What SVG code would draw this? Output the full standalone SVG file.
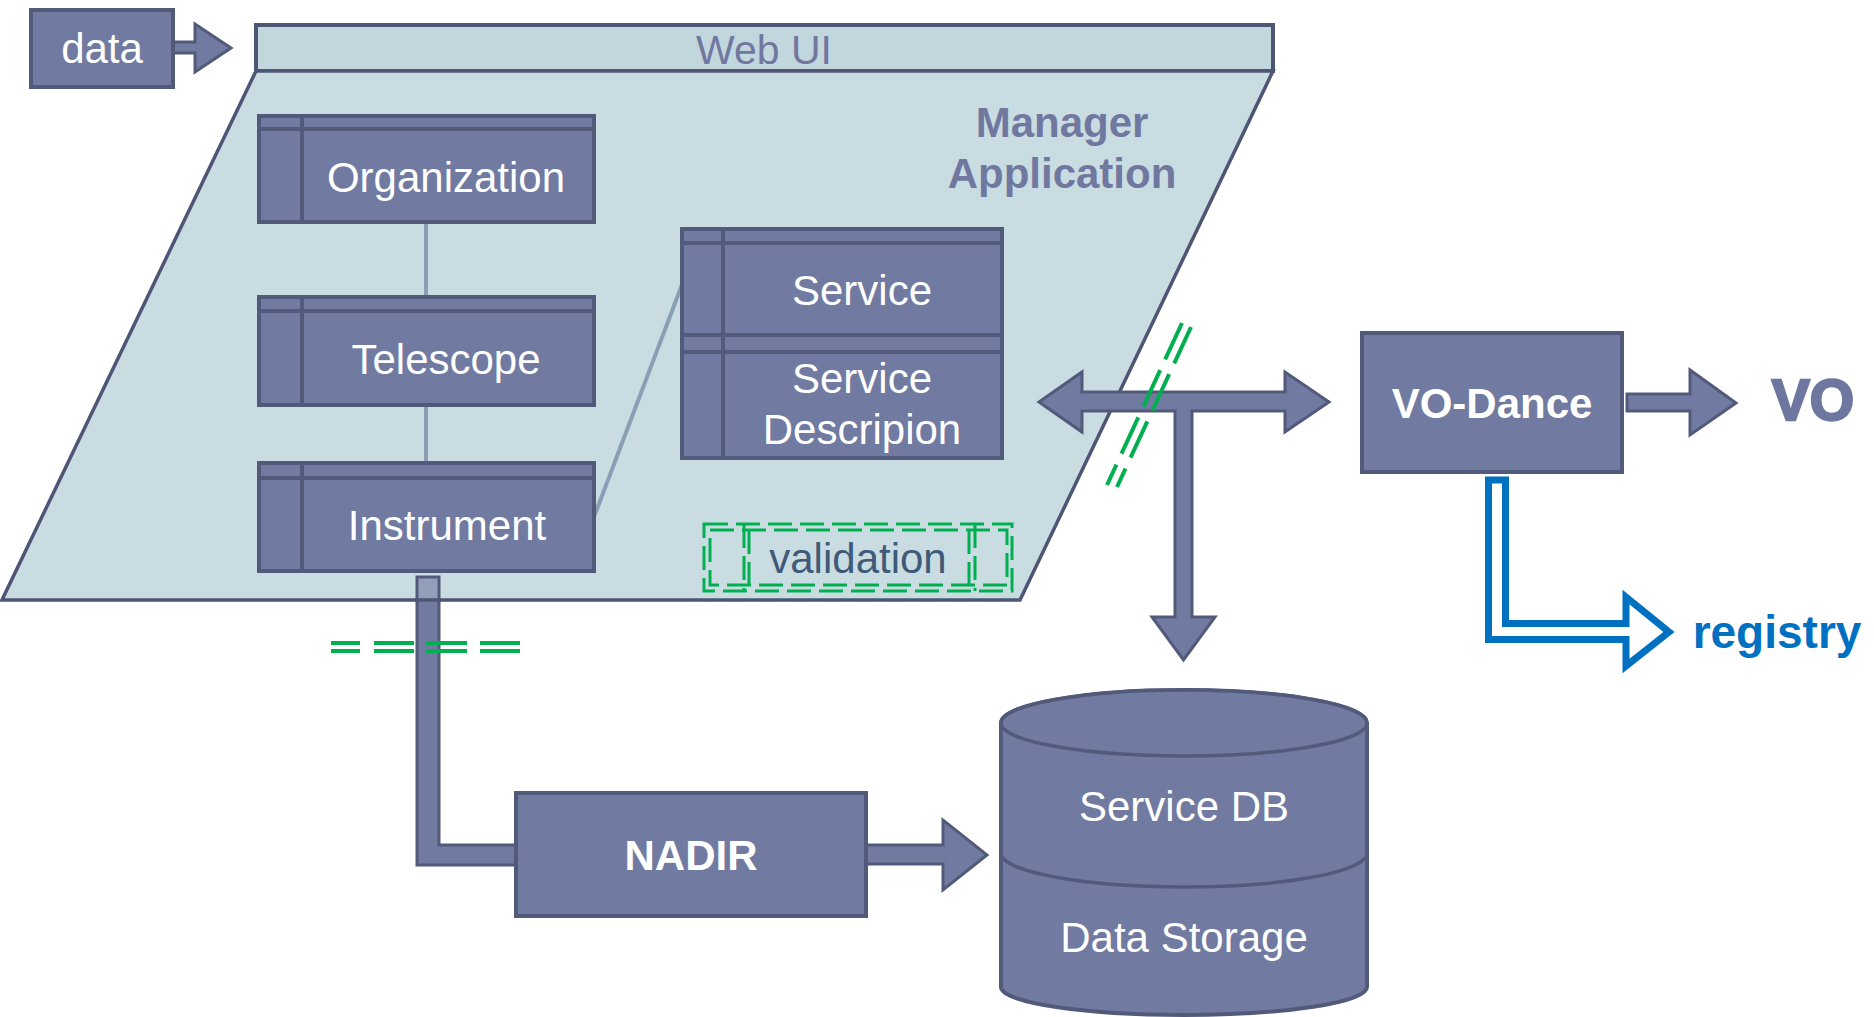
<svg xmlns="http://www.w3.org/2000/svg" width="1874" height="1017" viewBox="0 0 1874 1017">
<style>
.node{fill:#717aa0;stroke:#525a7b;stroke-width:4}
.div{stroke:#525a7b;stroke-width:4;fill:none}
.wt{font-family:"Liberation Sans",Arial,sans-serif;font-size:42px;fill:#ffffff;text-anchor:middle}
.b{font-weight:bold}
.arrow{fill:#717aa0;stroke:#525a7b;stroke-width:3;stroke-linejoin:miter}
.assoc{stroke:#8a9fb5;stroke-width:4;fill:none}
.green{stroke:#00b050;stroke-width:4;fill:none}
.gbox{stroke:#00b050;stroke-width:3;fill:none;stroke-dasharray:24 8}
</style>
<rect width="1874" height="1017" fill="#ffffff"/>
<g id="manager-application">
<rect x="256" y="25" width="1017" height="46" fill="#c2d6dd" stroke="#4f5675" stroke-width="4"/>
<text x="764" y="64" font-family="Liberation Sans,Arial,sans-serif" font-size="41" fill="#7078a0" text-anchor="middle">Web UI</text>
<polygon points="256,71 1273,71 1020,600 2,600" fill="#c9dce2" stroke="#4f5675" stroke-width="3.5" stroke-linejoin="miter"/>
<text x="1062" y="137" font-family="Liberation Sans,Arial,sans-serif" font-size="42" font-weight="bold" fill="#7078a0" text-anchor="middle">Manager</text>
<text x="1062" y="188" font-family="Liberation Sans,Arial,sans-serif" font-size="42" font-weight="bold" fill="#7078a0" text-anchor="middle">Application</text>
</g>
<g id="connectors">
<line class="assoc" x1="426" y1="222" x2="426" y2="297"/>
<line class="assoc" x1="426" y1="405" x2="426" y2="463"/>
<line class="assoc" x1="594" y1="517" x2="683" y2="282"/>
<polygon class="arrow" points="173,42 195,42 195,24 231,48 195,72 195,53 173,53"/>
<polygon class="arrow" points="417,577 439,577 439,845 516,845 516,865 417,865"/>
<rect x="418.5" y="578.5" width="19" height="20" fill="#c9dce2" fill-opacity="0.38"/>
<line x1="415" y1="600" x2="441" y2="600" stroke="#4f5675" stroke-width="3.5"/>
<polygon class="arrow" points="866,845 943,845 943,820 987,855 943,890 943,864 866,864"/>
<polygon class="arrow" points="1039,402 1082,372 1082,392 1285,392 1285,372 1329,402 1285,432 1285,411 1192,411 1192,617 1215,617 1183.5,660 1152,617 1175,617 1175,411 1082,411 1082,432"/>
<polygon class="arrow" points="1627,394 1690,394 1690,370 1736,403 1690,435 1690,411 1627,411"/>
<polygon points="1488.5,480 1505.5,480 1505.5,623.5 1626,623.5 1626,597 1669,632 1626,666 1626,639.5 1488.5,639.5" fill="#ffffff" stroke="#0070c0" stroke-width="7" stroke-linejoin="miter"/>
<line class="green" x1="331" y1="643" x2="521" y2="643" stroke-dasharray="29 14 40 12 41 13 40"/>
<line class="green" x1="331" y1="651" x2="521" y2="651" stroke-dasharray="29 14 40 12 41 13 40"/>
<line class="green" x1="1182" y1="323" x2="1107" y2="485" stroke-dasharray="40 12"/>
<line class="green" x1="1191" y1="327" x2="1117" y2="487" stroke-dasharray="40 12"/>
</g>
<g id="data">
<rect class="node" x="31" y="10" width="142" height="77"/>
<text class="wt" x="102" y="63" font-size="41">data</text>
</g>
<g id="organization">
<rect class="node" x="259" y="116" width="335" height="106"/>
<line class="div" x1="259" y1="129" x2="594" y2="129"/>
<line class="div" x1="302" y1="116" x2="302" y2="222"/>
<text class="wt" x="446" y="192">Organization</text>
</g>
<g id="telescope">
<rect class="node" x="259" y="297" width="335" height="108"/>
<line class="div" x1="259" y1="311" x2="594" y2="311"/>
<line class="div" x1="302" y1="297" x2="302" y2="405"/>
<text class="wt" x="446" y="374">Telescope</text>
</g>
<g id="instrument">
<rect class="node" x="259" y="463" width="335" height="108"/>
<line class="div" x1="259" y1="478" x2="594" y2="478"/>
<line class="div" x1="302" y1="463" x2="302" y2="571"/>
<text class="wt" x="447" y="540">Instrument</text>
</g>
<g id="service">
<rect class="node" x="682" y="229" width="320" height="229"/>
<line class="div" x1="682" y1="243" x2="1002" y2="243"/>
<line class="div" x1="682" y1="335" x2="1002" y2="335" stroke-width="5"/>
<line class="div" x1="682" y1="352" x2="1002" y2="352"/>
<line class="div" x1="723" y1="229" x2="723" y2="458"/>
<text class="wt" x="862" y="305">Service</text>
<text class="wt" x="862" y="393">Service</text>
<text class="wt" x="862" y="444">Descripion</text>
</g>
<g id="validation">
<rect class="gbox" x="704" y="524" width="308" height="67"/>
<rect class="gbox" x="710" y="530" width="297" height="55"/>
<line class="gbox" x1="744" y1="524" x2="744" y2="591"/>
<line class="gbox" x1="749" y1="530" x2="749" y2="585"/>
<line class="gbox" x1="969" y1="530" x2="969" y2="585"/>
<line class="gbox" x1="975" y1="524" x2="975" y2="591"/>
<text x="858" y="573" font-family="Liberation Sans,Arial,sans-serif" font-size="42" fill="#3f5a78" text-anchor="middle">validation</text>
</g>
<g id="vo-dance">
<rect class="node" x="1362" y="333" width="260" height="139"/>
<text class="wt b" x="1492" y="418">VO-Dance</text>
</g>
<g id="vo">
<text x="1813" y="420" font-family="Liberation Sans,Arial,sans-serif" font-size="57" font-weight="bold" fill="#6e77a0" stroke="#6e77a0" stroke-width="2.5" text-anchor="middle">VO</text>
</g>
<g id="registry">
<text x="1777" y="648" font-family="Liberation Sans,Arial,sans-serif" font-size="46" font-weight="bold" fill="#0070c0" text-anchor="middle">registry</text>
</g>
<g id="nadir">
<rect class="node" x="516" y="793" width="350" height="123"/>
<text class="wt b" x="691" y="870">NADIR</text>
</g>
<g id="database">
<path class="node" d="M1001,723 L1001,987 A183,28 0 0 0 1367,987 L1367,723 A183,33 0 0 0 1001,723 Z" stroke-width="3.5"/>
<ellipse cx="1184" cy="723" rx="183" ry="33" fill="#717aa0" stroke="#525a7b" stroke-width="3.5"/>
<path d="M1001,853 A183,34 0 0 0 1367,853" fill="none" stroke="#525a7b" stroke-width="3.5"/>
<text class="wt" x="1184" y="821">Service DB</text>
<text class="wt" x="1184" y="952">Data Storage</text>
</g>
</svg>
